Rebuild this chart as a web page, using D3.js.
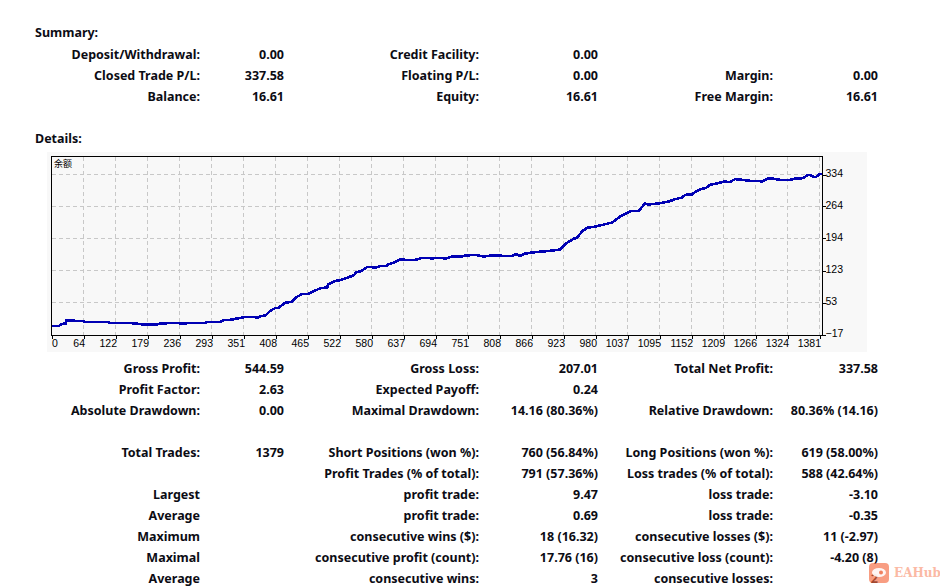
<!DOCTYPE html>
<html>
<head>
<meta charset="utf-8">
<script src="https://cdnjs.cloudflare.com/ajax/libs/d3/7.8.5/d3.min.js"></script>
<style>
  html, body { margin: 0; padding: 0; background: #fff; }
  svg { display: block; }
  .tbl text { font-family: "Noto Sans", sans-serif; font-size: 12.5px; font-weight: 700; fill: #0c0c14; }
  .axis text { font-family: "Liberation Sans", sans-serif; font-size: 10.5px; fill: #000; }
</style>
</head>
<body>
<div id="chart"></div>
<script>
// Report text
const summaryRows = [
  ["Deposit/Withdrawal:", "0.00", "Credit Facility:", "0.00", "", ""],
  ["Closed Trade P/L:", "337.58", "Floating P/L:", "0.00", "Margin:", "0.00"],
  ["Balance:", "16.61", "Equity:", "16.61", "Free Margin:", "16.61"]
];
const detailRows1 = [
  ["Gross Profit:", "544.59", "Gross Loss:", "207.01", "Total Net Profit:", "337.58"],
  ["Profit Factor:", "2.63", "Expected Payoff:", "0.24", "", ""],
  ["Absolute Drawdown:", "0.00", "Maximal Drawdown:", "14.16 (80.36%)", "Relative Drawdown:", "80.36% (14.16)"]
];
const detailRows2 = [
  ["Total Trades:", "1379", "Short Positions (won %):", "760 (56.84%)", "Long Positions (won %):", "619 (58.00%)"],
  ["", "", "Profit Trades (% of total):", "791 (57.36%)", "Loss trades (% of total):", "588 (42.64%)"],
  ["Largest", "", "profit trade:", "9.47", "loss trade:", "-3.10"],
  ["Average", "", "profit trade:", "0.69", "loss trade:", "-0.35"],
  ["Maximum", "", "consecutive wins ($):", "18 (16.32)", "consecutive losses ($):", "11 (-2.97)"],
  ["Maximal", "", "consecutive profit (count):", "17.76 (16)", "consecutive loss (count):", "-4.20 (8)"],
  ["Average", "", "consecutive wins:", "3", "consecutive losses:", "2"]
];

// Axis labels
const xLabels = [0, 64, 122, 179, 236, 293, 351, 408, 465, 522, 580, 637, 694, 751, 808, 866, 923, 980, 1037, 1095, 1152, 1209, 1266, 1324, 1381];
const yTicks = [-17, 53, 123, 194, 264, 334];

// Balance curve
const trades = [7, 20, 26, 32, 33, 39, 45, 48, 64, 67, 109, 112, 145, 157, 172, 196, 199, 214, 231, 243, 249, 282, 285, 309, 315, 327, 339, 351, 369, 375, 381, 390, 398, 407, 413, 425, 437, 446, 455, 467, 476, 488, 500, 502, 515, 524, 548, 551, 562, 571, 580, 585, 595, 606, 610, 619, 631, 640, 658, 670, 682, 688, 694, 704, 712, 721, 730, 738, 747, 765, 780, 789, 810, 816, 831, 837, 846, 852, 867, 885, 899, 917, 929, 941, 947, 956, 965, 977, 998, 1010, 1025, 1043, 1058, 1066, 1069, 1075, 1093, 1111, 1123, 1135, 1141, 1153, 1159, 1168, 1177, 1186, 1198, 1210, 1220, 1230, 1242, 1257, 1272, 1278, 1290, 1299, 1311, 1329, 1335, 1352, 1359, 1365, 1371, 1375, 1381, 1387];
const balance = [1.3, 2, 6.4, 7.1, 14.4, 13, 14.4, 13, 12.3, 10.8, 10, 7.9, 8.6, 7.1, 4.9, 4.9, 6.4, 7.9, 8.6, 6.4, 7.9, 8.6, 10, 10.8, 14.4, 15.2, 18.1, 21, 21.8, 19.6, 23.2, 24.7, 35, 40.8, 41.5, 52.5, 54.7, 65.6, 71.5, 72.2, 78, 84.6, 86.1, 92.7, 100.7, 102.2, 113, 119, 122.7, 130.7, 130.7, 129.3, 132.9, 133.6, 137.3, 140.2, 148.3, 146.8, 146.8, 151.2, 151.2, 149, 151.2, 151.2, 149, 153.4, 154.8, 153.4, 156.3, 157.8, 154.1, 155.6, 156.3, 154.9, 155.6, 159.2, 155.6, 160, 162.9, 165.1, 166.6, 169.5, 184.1, 192.9, 195.1, 209, 217, 219.2, 225, 228.7, 242.6, 253.6, 254.3, 266.7, 270.4, 268.2, 270.4, 274.8, 279.9, 283.6, 289.4, 290.1, 296, 301.8, 304, 312, 314.3, 318.7, 317.2, 323.8, 322.3, 320.1, 320.1, 317.9, 326, 324.5, 322.3, 322.3, 324.5, 326, 332.6, 332.6, 328.2, 328.9, 334.7, 334.7];

const w = 940, h = 588;
const svg = d3.select("#chart").append("svg").attr("width", w).attr("height", h);

// Tables
const colX = [200, 284, 479, 598, 773, 878];
const rowStep = 21;

function drawRows(rows, startY) {
  const g = svg.append("g").attr("class", "tbl");
  rows.forEach((row, i) => {
    row.forEach((txt, j) => {
      if (!txt) return;
      g.append("text")
        .attr("x", colX[j])
        .attr("y", startY + i * rowStep)
        .attr("dy", "0.35em")
        .attr("text-anchor", "end")
        .text(txt);
    });
  });
}

const titles = svg.append("g").attr("class", "tbl");
titles.append("text").attr("x", 35).attr("y", 33).attr("dy", "0.35em").text("Summary:");
titles.append("text").attr("x", 35).attr("y", 139).attr("dy", "0.35em").text("Details:");

drawRows(summaryRows, 55);
drawRows(detailRows1, 369);
drawRows(detailRows2, 453);

// Chart
const plotLeft = 51.5, plotRight = 822.5, plotTop = 156.5, plotBottom = 335.5;

svg.append("rect")
  .attr("x", 47).attr("y", 152)
  .attr("width", 820).attr("height", 200)
  .attr("fill", "#f8f8f8");

const xAxisScale = d3.scalePoint().domain(xLabels).range([51.5, 819.5]);
const x = d3.scaleLinear().domain([64, 1381]).range([xAxisScale(64), xAxisScale(1381)]);
const y = d3.scaleLinear().domain([-17, 334]).range([334.5, 174.5]);

// Dashed grid
const grid = svg.append("g")
  .attr("stroke", "#c8c8c8")
  .attr("stroke-dasharray", "4,3")
  .attr("shape-rendering", "crispEdges");

grid.selectAll(".gx").data(xLabels.slice(1)).enter().append("line")
  .attr("x1", d => xAxisScale(d)).attr("x2", d => xAxisScale(d))
  .attr("y1", plotTop).attr("y2", plotBottom);

grid.selectAll(".gy").data(yTicks.slice(1)).enter().append("line")
  .attr("x1", plotLeft).attr("x2", plotRight)
  .attr("y1", d => y(d)).attr("y2", d => y(d));

// Balance line
const line = d3.line().x((d, i) => x(trades[i])).y(d => y(d));
svg.append("path")
  .datum(balance)
  .attr("fill", "none")
  .attr("stroke", "#0000b4")
  .attr("stroke-width", 2.6)
  .attr("shape-rendering", "crispEdges")
  .attr("d", line);

// Frame
svg.append("rect")
  .attr("x", plotLeft).attr("y", plotTop)
  .attr("width", plotRight - plotLeft).attr("height", plotBottom - plotTop)
  .attr("fill", "none")
  .attr("stroke", "#000")
  .attr("shape-rendering", "crispEdges");

// Axes
const xAxis = svg.append("g")
  .attr("class", "axis")
  .attr("transform", `translate(0,${plotBottom})`)
  .call(d3.axisBottom(xAxisScale).tickSize(3).tickPadding(1));
xAxis.select(".domain").remove();
xAxis.selectAll("line").attr("shape-rendering", "crispEdges");
xAxis.selectAll("text")
  .attr("text-anchor", (d, i) => i === 0 ? "start" : "end")
  .attr("dx", (d, i) => i === 0 ? 0 : 1);

const yAxis = svg.append("g")
  .attr("class", "axis")
  .attr("transform", `translate(${plotRight},0)`)
  .call(d3.axisRight(y).tickValues(yTicks).tickSize(3).tickPadding(0));
yAxis.select(".domain").remove();
yAxis.selectAll("line").attr("shape-rendering", "crispEdges");
yAxis.selectAll("text").attr("dy", "0.18em");

// Series name
svg.append("text")
  .attr("x", 54).attr("y", 167)
  .attr("font-family", "'Noto Sans CJK SC'")
  .attr("font-size", 9)
  .attr("fill", "#000")
  .text("余额");

// Watermark sits over the table, half transparent
const mark = svg.append("g").attr("transform", "translate(869,563)");
mark.append("rect").attr("width", 20).attr("height", 20).attr("rx", 4).attr("fill", "#f4693f").attr("opacity", 0.65);
mark.append("ellipse").attr("cx", 10).attr("cy", 9.5).attr("rx", 7).attr("ry", 4.5).attr("fill", "#fff").attr("opacity", 0.9);
mark.append("circle").attr("cx", 12).attr("cy", 9.5).attr("r", 2).attr("fill", "#f0805f");
svg.append("text")
  .attr("x", 894).attr("y", 577)
  .attr("font-family", "'DejaVu Serif'")
  .attr("font-weight", "bold")
  .attr("font-size", 12)
  .attr("fill", "#fbb9a4")
  .text("EAHub");
</script>
</body>
</html>
